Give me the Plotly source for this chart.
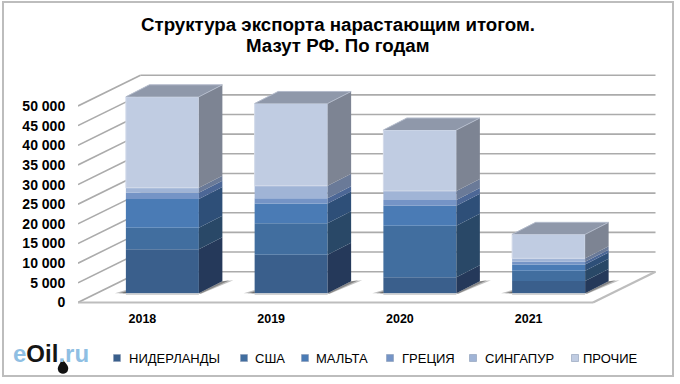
import plotly.graph_objects as go

# ---- data ----
YEARS = ["2018", "2019", "2020", "2021"]
SERIES = ["НИДЕРЛАНДЫ", "США", "МАЛЬТА", "ГРЕЦИЯ", "СИНГАПУР", "ПРОЧИЕ"]
NETHERLANDS = [11200, 9800, 4100, 3100]
USA = [5500, 8050, 13100, 2650]
MALTA = [7300, 5000, 5100, 1600]
GREECE = [1600, 1350, 1450, 700]
SINGAPORE = [1250, 3150, 2300, 850]
OTHER = [23150, 20950, 15500, 6100]
VALUES = [NETHERLANDS, USA, MALTA, GREECE, SINGAPORE, OTHER]
Y_TICKS = [0, 5000, 10000, 15000, 20000, 25000, 30000, 35000, 40000, 45000, 50000]
Y_TEXT = ["0", "5 000", "10 000", "15 000", "20 000", "25 000", "30 000", "35 000", "40 000", "45 000", "50 000"]
TITLE_LINES = ["Структура экспорта нарастающим итогом.", "Мазут РФ. По годам"]

FRONT = ["#3A5F8C", "#416E9F", "#4A7BB5", "#7594C6", "#A0B4D6", "#C0CCE2"]
SIDE = ["#25395A", "#294867", "#2E4F78", "#4C6796", "#6A7A98", "#7D8493"]
TOP = "#8F98AA"
GRID = "#ABABAB"
BORDER = "#BDBDBD"
FONT = "Liberation Sans, Arial, sans-serif"

# ---- geometry ----
W, H = 680, 384
ML, MR, MT, MB = 78, 24, 68, 79
PX_X = 128.75            # px per category
PX_Y = 19.65 / 5000      # px per unit
X0, X1 = -0.5, -0.5 + (W - ML - MR) / PX_X
Y0 = -2.5 / PX_Y
Y1 = Y0 + (H - MT - MB) / PX_Y
WALL_DX, WALL_DY = 62.5 / PX_X, 30.8 / PX_Y
BAR_SHIFT, BAR_W = 20.0 / PX_X, 73.0 / PX_X
BAR_BASE = 9.2 / PX_Y
DEPTH_DX, DEPTH_DY = 23.5 / PX_X, 12.0 / PX_Y


def px(x):
    return (x - ML) / (W - ML - MR)


def py(y):
    return 1 - (y - MT) / (H - MT - MB)


fig = go.Figure()
shapes = []
line = dict(color=GRID, width=1.6)
# back wall & side wall grid
for v in Y_TICKS:
    shapes.append(dict(type="line", xref="x", yref="y", layer="below", line=line,
                       x0=X0 + WALL_DX, x1=3.5 + WALL_DX, y0=v + WALL_DY, y1=v + WALL_DY))
    shapes.append(dict(type="line", xref="x", yref="y", layer="below", line=line,
                       x0=X0, x1=X0 + WALL_DX, y0=v, y1=v + WALL_DY))
# floor edges
floor = dict(color=BORDER, width=2.2)
shapes.append(dict(type="line", xref="x", yref="y", layer="below", line=floor, x0=X0, x1=3.5, y0=0, y1=0))
shapes.append(dict(type="line", xref="x", yref="y", layer="below", line=floor, x0=3.5, x1=3.5 + WALL_DX, y0=0, y1=WALL_DY))
# outer frame
shapes.append(dict(type="rect", xref="paper", yref="paper", layer="below",
                   x0=px(3), x1=px(673), y0=py(376), y1=py(2), line=dict(color=BORDER, width=2)))

# bar fronts
cum = [0] * len(YEARS)
bases = []
for s, (name, vals, col) in enumerate(zip(SERIES, VALUES, FRONT)):
    base = list(cum)
    bases.append(base)
    edge = dict(width=1, color="#D3DBEA") if s == len(SERIES) - 1 else dict(width=0)
    fig.add_trace(go.Bar(name=name, x=[i + BAR_SHIFT for i in range(len(YEARS))], y=vals,
                         base=[b + BAR_BASE for b in base], width=BAR_W,
                         marker=dict(color=col, line=edge), hoverinfo="skip", showlegend=False))
    cum = [c + v for c, v in zip(cum, vals)]


def poly(xs, ys, color, opacity=1.0):
    fig.add_trace(go.Scatter(x=xs + xs[:1], y=ys + ys[:1], mode="lines", fill="toself", fillcolor=color,
                             line=dict(width=0, color=color), opacity=opacity,
                             hoverinfo="skip", showlegend=False))


def stroke(xs, ys, color, width=1.0):
    fig.add_trace(go.Scatter(x=xs, y=ys, mode="lines", line=dict(width=width, color=color),
                             hoverinfo="skip", showlegend=False))


for i in range(len(YEARS)):
    xl = i + BAR_SHIFT - BAR_W / 2
    xr = i + BAR_SHIFT + BAR_W / 2
    f = BAR_BASE
    # floor shadows
    for grow, op in ((11, .3), (7, .4), (3.5, .5)):
        g = grow / PX_X
        poly([xr, xr + DEPTH_DX, xr + DEPTH_DX + g, xr + g * .2],
             [f, f + DEPTH_DY, f + DEPTH_DY + 1 / PX_Y, f - 0.4 / PX_Y], "#2E2E2E", op)
        poly([xl - g, xl, xl], [f, f, f + 0.3 * grow / PX_Y], "#2E2E2E", op)
    stroke([xl, xr], [f - 0.8 / PX_Y, f - 0.8 / PX_Y], "#B5B5B5", 1)
    # side faces
    for s, vals in enumerate(VALUES):
        b = bases[s][i] + f
        t = b + vals[i]
        poly([xr, xr + DEPTH_DX, xr + DEPTH_DX, xr],
             [b, b + DEPTH_DY, t + DEPTH_DY, t], SIDE[s])
    # top face
    t = cum[i] + f
    poly([xl, xr, xr + DEPTH_DX, xl + DEPTH_DX], [t, t, t + DEPTH_DY, t + DEPTH_DY], TOP)
    stroke([xl, xl + DEPTH_DX, xr + DEPTH_DX, xr], [t, t + DEPTH_DY, t + DEPTH_DY, t], "#B2BACA", 1)

# legend (positioned like the source)
annotations = []
MARK_X = [117, 244, 305, 390, 473, 575]
TEXT_X = [128, 254, 315, 401, 484, 582]
LEG_Y = 358
for name, col, mx, tx in zip(SERIES, FRONT, MARK_X, TEXT_X):
    shapes.append(dict(type="rect", xref="paper", yref="paper", x0=px(mx - 3.5), x1=px(mx + 3.5),
                       y0=py(LEG_Y + 3.5), y1=py(LEG_Y - 3.5), fillcolor=col, line=dict(width=0.6, color="#8A9BB5")))
    annotations.append(dict(xref="paper", yref="paper", x=px(tx), y=py(LEG_Y), text=name, showarrow=False,
                            xanchor="left", yanchor="middle", xshift=-1,
                            font=dict(family=FONT, size=13, color="#000000")))

# second title line
annotations.append(dict(xref="paper", yref="paper", x=px(338), y=py(45), text=TITLE_LINES[1], showarrow=False,
                        xanchor="center", yanchor="middle",
                        font=dict(family=FONT, size=18.7, color="#000000", weight="bold")))

# logo
annotations.append(dict(xref="paper", yref="paper", x=px(12), y=py(353), xanchor="left", yanchor="middle",
                        showarrow=False, xshift=-1,
                        text='<b style="color:#8FBFE3">e</b><b style="color:#151515">Oil</b>'
                             '<b style="color:#8FBFE3">.ru</b>',
                        font=dict(family=FONT, size=24)))
shapes.append(dict(type="path", xref="paper", yref="paper", fillcolor="#111111", line=dict(width=0),
                   path=f"M {px(62)} {py(359)} C {px(67)} {py(364)} {px(69)} {py(367)} {px(68)} {py(370)} "
                        f"C {px(67)} {py(375)} {px(59)} {py(375)} {px(58)} {py(370)} "
                        f"C {px(57)} {py(367)} {px(60)} {py(364)} {px(62)} {py(359)} Z"))

fig.update_layout(
    width=W, height=H, margin=dict(l=ML, r=MR, t=MT, b=MB, pad=0, autoexpand=False),
    paper_bgcolor="white", plot_bgcolor="white", barmode="overlay", showlegend=False,
    title=dict(text=TITLE_LINES[0], x=338 / W, xanchor="center", xref="container",
               y=1 - 24 / H, yanchor="middle",
               font=dict(family=FONT, size=18.7, color="#000000", weight="bold")),
    xaxis=dict(range=[X0, X1], tickmode="array", tickvals=list(range(len(YEARS))), ticktext=YEARS,
               showgrid=False, zeroline=False, showline=False, ticks="outside", ticklen=2,
               tickcolor="rgba(0,0,0,0)", tickfont=dict(family=FONT, size=12.5, color="#000000", weight="bold")),
    yaxis=dict(range=[Y0, Y1], tickmode="array", tickvals=Y_TICKS, ticktext=Y_TEXT,
               showgrid=False, zeroline=False, showline=False, ticks="outside", ticklen=9,
               tickcolor="rgba(0,0,0,0)", tickfont=dict(family=FONT, size=14, color="#000000", weight="bold")),
    shapes=shapes, annotations=annotations,
)

fig.write_html("out.html", config=dict(displayModeBar=False),
               post_script="document.body.style.margin='0';document.documentElement.style.overflow='hidden';")
